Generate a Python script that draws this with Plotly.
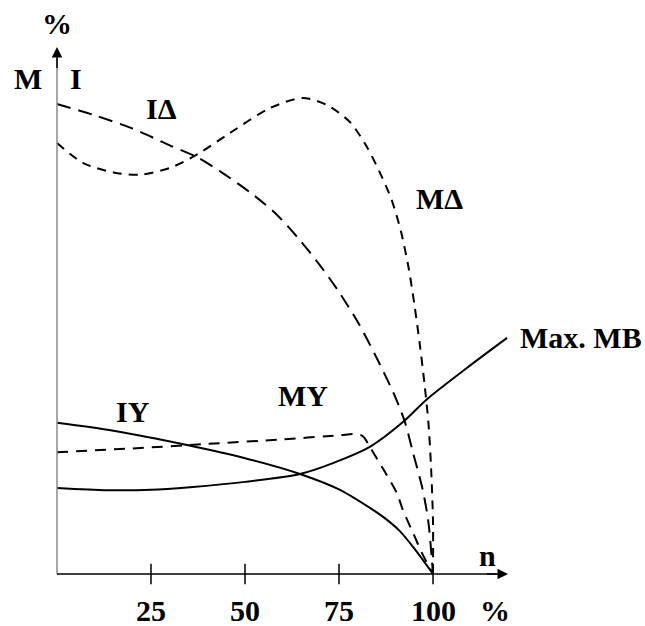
import plotly.graph_objects as go

# speed n in %, values in %
n_i_delta = [0, 10, 20, 30, 37, 45, 52, 58, 64, 70, 75, 80, 85, 90, 92.6, 94.7, 97.1, 98.7, 100]
i_delta = [125, 122, 118.5, 114, 111, 106, 101, 96, 89.5, 82, 75, 67, 57.5, 47, 40.2, 32.2, 23.1, 14.4, 0]

n_m_delta = [0, 7, 15, 22, 30, 37.5, 46, 56.6, 65.4, 71.8, 77.9, 82.4, 86, 89, 91.5, 93.5, 95, 96.5, 97.8, 98.8, 99.5, 100, 100]
m_delta = [114.6, 109.3, 106.8, 106.2, 108, 111.7, 117.3, 123.9, 126.6, 124.7, 120.2, 113.6, 106.5, 99.5, 91, 81.5, 72, 61, 50, 40, 28, 14, 0]

n_m_y = [0, 20, 40, 60, 75, 80, 81.5, 83.2, 87, 90.4, 92, 94.7, 97.3, 100]
m_y = [32.4, 33.4, 34.6, 35.8, 36.9, 37.2, 36.5, 33.8, 27.5, 21.5, 17.0, 10.9, 5.1, 0]

n_i_y = [0, 15, 34.6, 50, 64.6, 75, 83.2, 87, 91, 95, 100]
i_y = [40.2, 38.1, 34.3, 30.8, 26.6, 22.5, 17.6, 15, 11.6, 6.8, 0]

n_max_mb = [0, 13.3, 25, 35.4, 50, 64.6, 73.4, 83.2, 92, 98.4, 109, 119.7]
max_mb = [22.9, 22.3, 22.4, 23.1, 24.5, 26.6, 29.5, 33.8, 40.4, 46.5, 54.8, 62.8]

tick_vals = [25, 50, 75, 100]

FONT = "Liberation Serif"
W, H = 645, 626
PX = 3.76  # pixels per unit on both axes
X0, Y0 = 57, 574  # pixel position of the origin

fig = go.Figure()

def add_curve(x, y, dash):
    fig.add_trace(go.Scatter(x=x, y=y, mode="lines",
                             line=dict(color="black", width=2, dash=dash,
                                       shape="spline", smoothing=0.8),
                             hoverinfo="skip", showlegend=False))

add_curve(n_i_delta, i_delta, "14px,8px")
add_curve(n_m_delta, m_delta, "9px,7px")
add_curve(n_m_y, m_y, "11px,8px")
add_curve(n_i_y, i_y, "solid")
add_curve(n_max_mb, max_mb, "solid")

x_end = (508 - X0) / PX
y_end = (47 - Y0) / -PX

# axes
fig.add_shape(type="line", x0=0, y0=0, x1=0, y1=y_end - 3, line=dict(color="#8a8a8a", width=1.5))
fig.add_shape(type="line", x0=0, y0=0, x1=x_end - 3, y1=0, line=dict(color="black", width=1.5))
fig.add_annotation(x=0, y=y_end, ax=0, ay=y_end - 6, xref="x", yref="y", axref="x", ayref="y",
                   text="", showarrow=True, arrowhead=2, arrowsize=1.4, arrowwidth=1.5, arrowcolor="black")
fig.add_annotation(x=x_end, y=0, ax=x_end - 6, ay=0, xref="x", yref="y", axref="x", ayref="y",
                   text="", showarrow=True, arrowhead=2, arrowsize=1.4, arrowwidth=1.5, arrowcolor="black")
for t in tick_vals:
    fig.add_shape(type="line", x0=t, x1=t, y0=-2.7, y1=2.7, line=dict(color="black", width=1.5))
    fig.add_annotation(x=t, y=-9.8, text=f"<b>{t}</b>", showarrow=False,
                       font=dict(family=FONT, size=30, color="black"))

labels = [
    ("%", 0, 146.3), ("M", -7.7, 131.9), ("I", 5.1, 131.9),
    ("IΔ", 27.9, 123.9), ("MΔ", 101.6, 100), ("Max. MB", 139.4, 62.8),
    ("IY", 20.2, 43.1), ("MY", 65.4, 47.6), ("n", 114.6, 4.8),
    ("%", 116.5, -9.8),
]
for txt, x, y in labels:
    fig.add_annotation(x=x, y=y, text=f"<b>{txt}</b>", showarrow=False,
                       font=dict(family=FONT, size=30, color="black"))

fig.update_layout(
    width=W, height=H, margin=dict(l=0, r=0, t=0, b=0),
    paper_bgcolor="white", plot_bgcolor="white",
    xaxis=dict(range=[-X0 / PX, (W - X0) / PX], visible=False),
    yaxis=dict(range=[-(H - Y0) / PX, Y0 / PX], visible=False),
)

fig.write_html("out.html", config={"displayModeBar": False},
               post_script="document.body.style.margin='0';")
